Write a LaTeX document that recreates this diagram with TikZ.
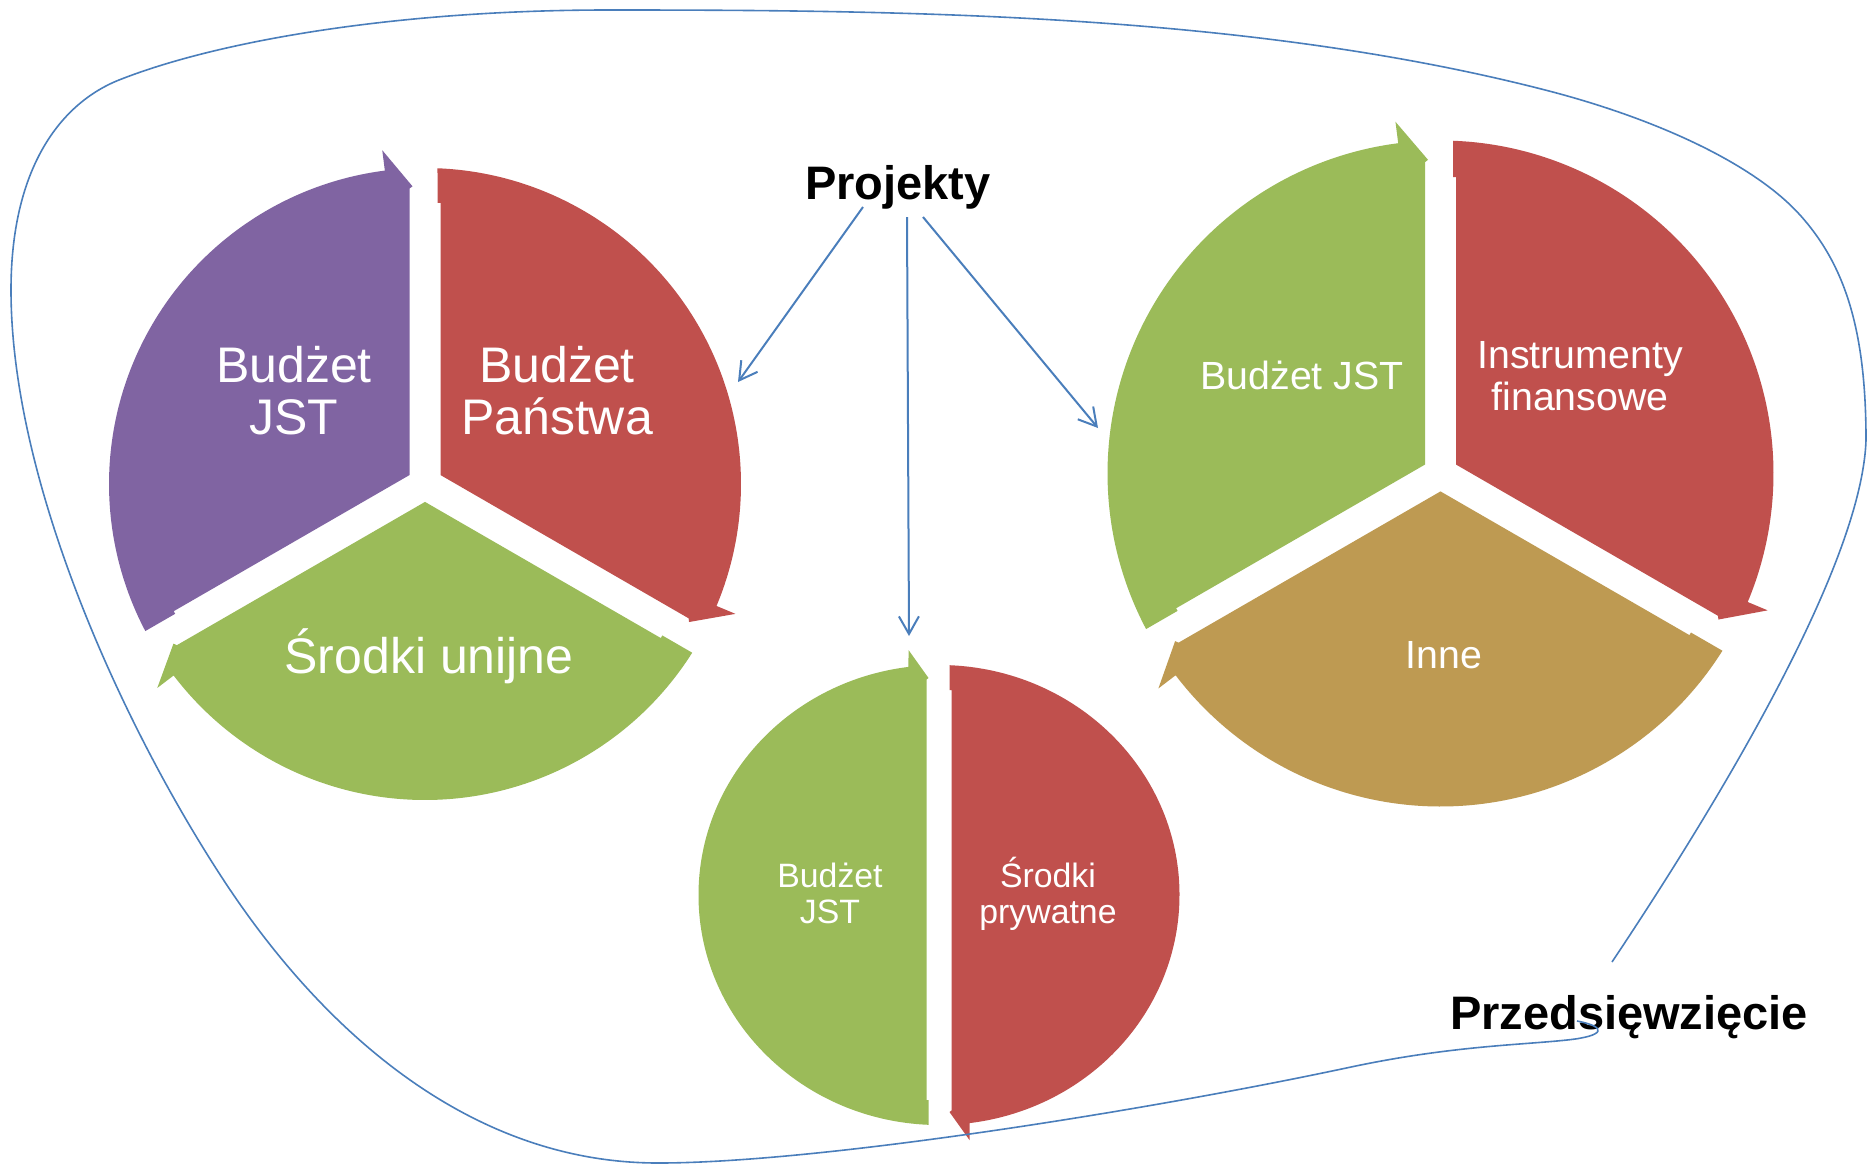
\documentclass[tikz,border=0pt]{standalone}
\usepackage{fontspec}
\setmainfont{Liberation Sans}
\usetikzlibrary{calc,arrows.meta}
\definecolor{cPurple}{HTML}{8064A2}
\definecolor{cRed}{HTML}{C0504D}
\definecolor{cGreen}{HTML}{9BBB59}
\definecolor{cTan}{HTML}{BE9A52}
\definecolor{cLine}{HTML}{4A7EBB}
\newcommand\twoline[2]{\begin{tabular}[t]{@{}c@{}}#1\\#2\end{tabular}}
% one wedge of a three-part cycle: radius, head angle, colour
\newcommand\cycwedge[3]{%
  \pgfmathsetmacro\wR{#1}%
  \pgfmathsetmacro\wH{#2}%
  \pgfmathsetmacro\wT{#2+120}%
  \pgfmathsetmacro\wTp{#2+30}%
  \pgfmathsetmacro\wHp{#2+90}%
  \pgfmathsetmacro\wV{#2+60}%
  \pgfmathsetmacro\wA{#2+120-asin(12.5/#1)}%
  \pgfmathsetmacro\wB{#2+7.3}%
  \pgfmathsetmacro\wS{#1*1.065}%
  \pgfmathsetmacro\wP{#1*0.942}%
  \pgfmathsetmacro\wQ{#1*0.935}%
  \pgfmathsetmacro\wN{#1*0.89}%
  \fill[#3] (\wV:17.9) -- ($(\wT:\wN)+(\wTp:15.5)$) -- ($(\wT:\wN)+(\wTp:12.5)$)
    -- (\wA:\wR) arc[start angle=\wA, end angle=\wB, radius=\wR]
    -- (\wB:\wS) -- ($(\wH:\wP)+(\wHp:12.5)$) -- ($(\wH:\wQ)+(\wHp:15.5)$) -- cycle;
}
\tikzset{
  lblL/.style={text=white, font=\fontsize{25}{26.35}\selectfont, anchor=base, inner sep=0pt},
  lblR/.style={text=white, font=\fontsize{19.65}{20.9}\selectfont, anchor=base, inner sep=0pt},
  lblM/.style={text=white, font=\fontsize{16.9}{18}\selectfont, anchor=base, inner sep=0pt},
  title/.style={text=black, font=\bfseries\fontsize{23.5}{28}\selectfont, anchor=base, inner sep=0pt},
  conn/.style={draw=cLine, line width=1pt, -{Straight Barb[length=8.8pt, width=10pt, line width=1pt]}},
  outl/.style={draw=cLine, line width=0.8pt},
}
\begin{document}
\begin{tikzpicture}[x=0.5pt, y=-0.5pt]
\useasboundingbox (0,0) rectangle (1868,1163);
\fill[white] (0,0) rectangle (1868,1163);

% left cycle
\begin{scope}[shift={(425,484)}, yscale=-1]
  \cycwedge{316}{90}{cPurple}
  \cycwedge{316}{-30}{cRed}
  \cycwedge{316}{210}{cGreen}
\end{scope}

% right cycle
\begin{scope}[shift={(1440.5,473.5)}, yscale=-1]
  \cycwedge{333}{90}{cGreen}
  \cycwedge{333}{-30}{cRed}
  \cycwedge{333}{210}{cTan}
\end{scope}

% middle two-part cycle
\begin{scope}[shift={(939,895)}, yscale=-1]
  \fill[cGreen] (-10.5,-229.8) arc[start angle=267.5, end angle=97.29, x radius=240.5, y radius=230]
    -- (-30.5,245) -- (-10.5,217) -- (-12.5,215.5) -- (-12.5,-205) -- (-10.5,-205) -- cycle;
  \fill[cRed, rotate=180] (-10.5,-229.8) arc[start angle=267.5, end angle=97.29, x radius=240.5, y radius=230]
    -- (-30.5,245) -- (-10.5,217) -- (-12.5,215.5) -- (-12.5,-205) -- (-10.5,-205) -- cycle;
\end{scope}

% labels
\node[lblL] (l1) at (294,382) {\twoline{Budżet}{JST}};
\node[lblL] (l2) at (557,382) {\twoline{Budżet}{Państwa}};
\node[lblL] (l3) at (429,673) {Środki unijne};
\node[lblR] (r1) at (1302,389) {Budżet JST};
\node[lblR] (r2) at (1580,368.6) {\twoline{Instrumenty}{finansowe}};
\node[lblR] (r3) at (1444,668) {Inne};
\node[lblM] (m1) at (830,887) {\twoline{Budżet}{JST}};
\node[lblM] (m2) at (1048,887) {\twoline{Środki}{prywatne}};
\node[title] (proj) at (898,199) {Projekty};
\node[title] (prz) at (1629,1029) {Przedsięwzięcie};

% connectors from Projekty
\coordinate (pa1) at (863,207);
\coordinate (pe1) at (738,382);
\coordinate (pa2) at (907,217);
\coordinate (pe2) at (909,636);
\coordinate (pa3) at (923,217);
\coordinate (pe3) at (1098,428);
\draw[conn] (pa1) -- (pe1);
\draw[conn] (pa2) -- (pe2);
\draw[conn] (pa3) -- (pe3);

% outline of Przedsięwzięcie
\coordinate (o0) at (1612,962);
\coordinate (o9) at (1577,1021);
\draw[outl] (o0)
  .. controls (1730,785) and (1862,560) .. (1866,440)
  .. controls (1866,330) and (1845,265) .. (1800,215)
  .. controls (1755,165) and (1660,120) .. (1549,91)
  .. controls (1249,13) and (900,10) .. (608,10)
  .. controls (400,10) and (220,40) .. (119,80)
  .. controls (59,104) and (11,170) .. (11,290)
  .. controls (11,480) and (120,720) .. (219,873)
  .. controls (270,952) and (420,1163) .. (658,1163)
  .. controls (820,1163) and (1150,1110) .. (1351,1067)
  .. controls (1450,1046) and (1520,1045) .. (1567,1040)
  .. controls (1605,1036) and (1608,1027) .. (o9);
\end{tikzpicture}
\end{document}
